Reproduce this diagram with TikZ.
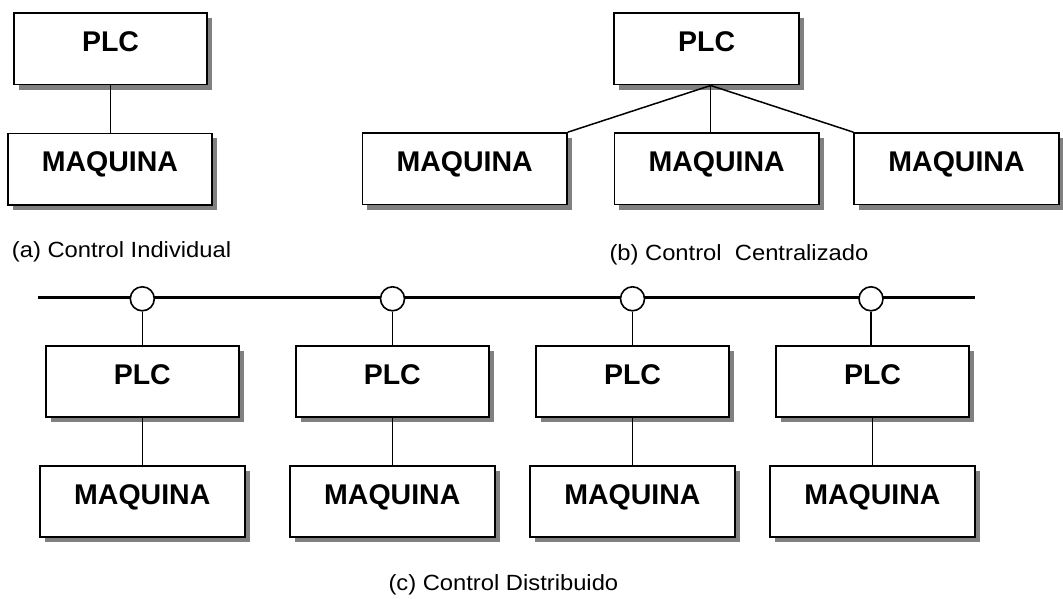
\documentclass[tikz,border=0pt]{standalone}
\usepackage{fontspec}
\setmainfont{Liberation Sans}
\newfontfamily\capfont[FakeStretch=1.08]{Liberation Sans}
\usetikzlibrary{shadows}
\definecolor{shadowgray}{RGB}{128,128,128}
\tikzset{
  box/.style={draw=black, line width=1.8pt, fill=white, rectangle, inner sep=0pt,
    minimum height=71.5pt, text height=20.5pt, text depth=15pt,
    font=\fontsize{28.5}{30}\selectfont\bfseries,
    drop shadow={shadow xshift=5pt, shadow yshift=-5pt, fill=shadowgray, opacity=1}},
  plcbox/.style={box, minimum width=193pt},
  maqbox/.style={box, minimum width=204.5pt},
  plcsmall/.style={box, minimum width=184.7pt},
  link/.style={draw=black, line width=1.5pt},
  bus/.style={draw=black, line width=3.3pt},
  tap/.style={circle, draw=black, line width=1.6pt, fill=white, minimum size=24pt, inner sep=0pt},
  caption/.style={anchor=base west, inner sep=0pt, font=\capfont\fontsize{22}{24}\selectfont}
}
\begin{document}
\begin{tikzpicture}[x=1pt,y=-1pt]
\useasboundingbox (0,0) rectangle (1063,598);

% (a) Control Individual
\node[plcbox] (pa) at (110.5,48.8) {PLC};
\node[maqbox] (ma) at (110,169.2) {MAQUINA};
\draw[link] (pa.south) -- (pa.south |- ma.north);
\node[caption] (capa) at (11.7,257.3) {(a) Control Individual};

% (b) Control Centralizado
\node[plcsmall] (pb) at (706.7,48.8) {PLC};
\node[maqbox] (mb1) at (464.7,168.8) {MAQUINA};
\node[maqbox] (mb2) at (716.7,168.8) {MAQUINA};
\node[maqbox] (mb3) at (956.5,168.8) {MAQUINA};
\coordinate (bj) at (710.7,85.5);
\draw[link] (bj) -- (mb1.north east);
\draw[link] (bj) -- (bj |- mb2.north);
\draw[link] (bj) -- (mb3.north west);
\node[caption] (capb) at (609.3,260.3) {(b) Control\ \ Centralizado};

% (c) Control Distribuido
\coordinate (busL) at (38,297.5);
\coordinate (busR) at (975,297.5);
\draw[bus] (busL) -- (busR);
\foreach \i/\cx/\px in {1/142.3/142.3, 2/392.5/392.3, 3/632.5/632.5, 4/871/872.5}{
  \node[tap] (t\i) at (\cx,298.8) {};
  \node[plcbox] (pc\i) at (\px,381.4) {PLC};
  \node[maqbox, minimum width=205pt] (mc\i) at (\px,501.5) {MAQUINA};
  \draw[link] (t\i.south) -- (t\i.south |- pc\i.north);
  \draw[link] (pc\i.south) -- (pc\i.south |- mc\i.north);
}
\node[caption] (capc) at (388.3,590.5) {(c) Control Distribuido};
\end{tikzpicture}
\end{document}
